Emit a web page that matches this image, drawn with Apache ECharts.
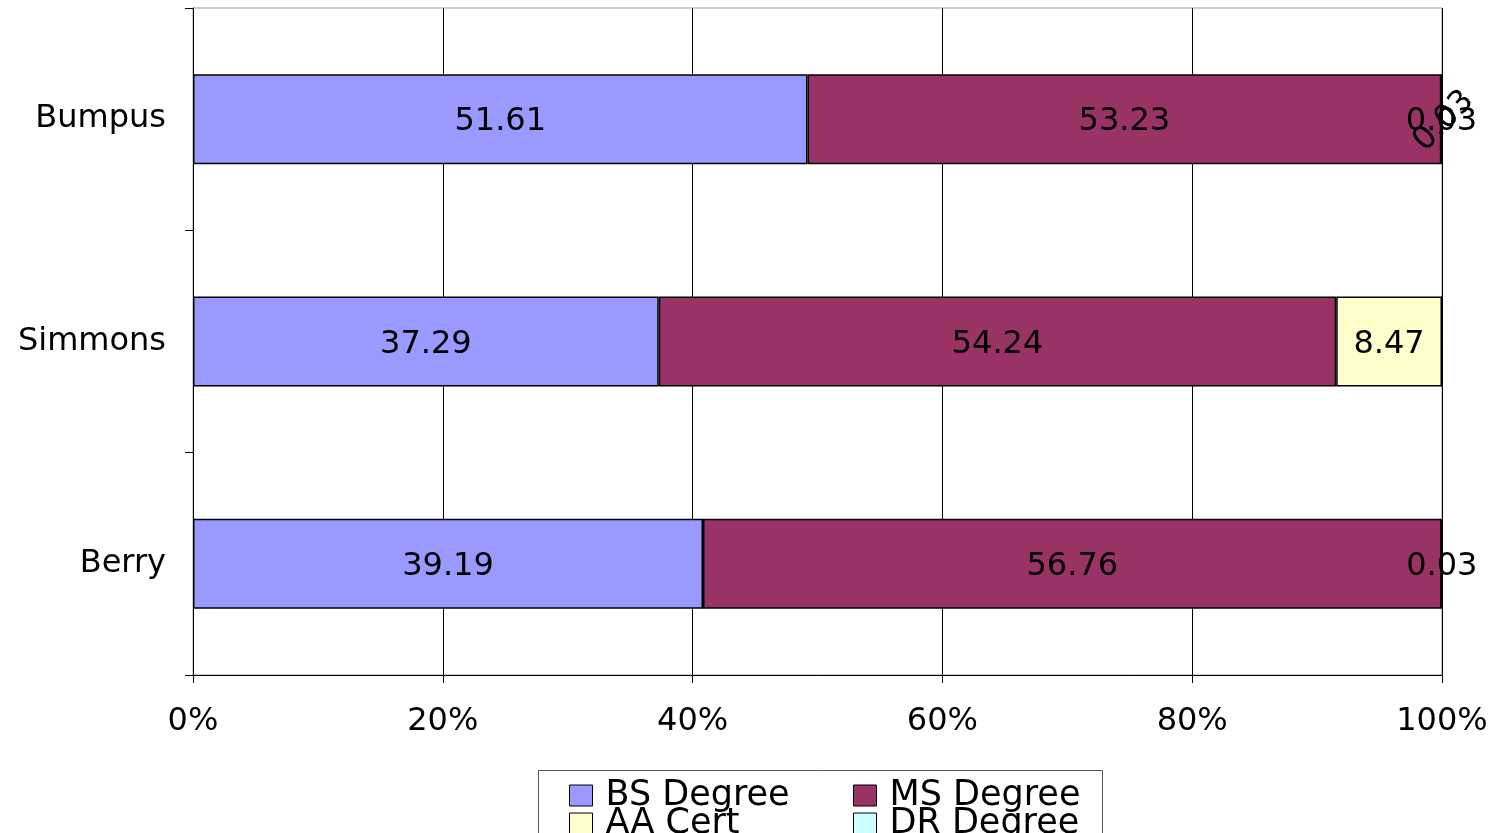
<!DOCTYPE html>
<html>
<head>
<meta charset="utf-8">
<script src="https://cdn.jsdelivr.net/npm/echarts@6/dist/echarts.min.js"></script>
<style>html,body{margin:0;padding:0;background:#fff}#c{width:1505px;height:833px}</style>
</head>
<body>
<div id="c"></div>
<script>
const categories = ['Berry', 'Simmons', 'Bumpus'];
const bsDegree = [39.19, 37.29, 51.61];
const msDegree = [56.76, 54.24, 53.23];
const aaCert = [0.03, 8.47, 0.03];
const drDegree = [0, 0, 0.03];
const xTicks = [0, 20, 40, 60, 80, 100];

const raw = {'BS Degree': bsDegree, 'MS Degree': msDegree, 'AA Cert': aaCert, 'DR Degree': drDegree};
const colors = {'BS Degree': '#9999FF', 'MS Degree': '#993366', 'AA Cert': '#FFFFCC', 'DR Degree': '#CCFFFF'};
const totals = categories.map((c, i) => bsDegree[i] + msDegree[i] + aaCert[i] + drDegree[i]);
const FONT = 'DejaVu Sans';
const FS = 32;

const series = Object.keys(raw).map(name => ({
  name: name,
  type: 'bar',
  stack: 'total',
  barWidth: 90,
  itemStyle: {color: colors[name], borderColor: '#000', borderWidth: 1.5},
  label: {
    show: true,
    position: 'inside',
    color: '#000',
    fontFamily: FONT,
    fontSize: FS,
    offset: [0, 3],
    formatter: p => raw[name][p.dataIndex] ? raw[name][p.dataIndex].toFixed(2) : ''
  },
  data: raw[name].map((v, i) => {
    const d = {value: v / totals[i] * 100};
    if (name === 'DR Degree' && i === 2) d.label = {rotate: 45};
    return d;
  })
}));

function legendItem(name, left, top) {
  return {
    data: [name], left: left, top: top, itemWidth: 23, itemHeight: 21, icon: 'rect',
    textStyle: {fontFamily: FONT, fontSize: 35, color: '#000', lineHeight: 28, padding: [0, 0, 0, 8]},
    itemStyle: {borderColor: '#000', borderWidth: 1}
  };
}

const chart = echarts.init(document.getElementById('c'));
chart.setOption({
  animation: false,
  color: Object.values(colors),
  grid: {left: 193, right: 63, top: 8, bottom: 158, show: true, borderColor: '#999', borderWidth: 1},
  xAxis: {
    type: 'value', min: xTicks[0], max: xTicks[xTicks.length - 1], interval: 20,
    axisLine: {show: true, lineStyle: {color: '#000', width: 1}},
    axisTick: {show: true, length: 8, lineStyle: {color: '#000'}},
    splitLine: {show: true, lineStyle: {color: '#000', width: 1}},
    axisLabel: {formatter: '{value}%', color: '#000', fontFamily: FONT, fontSize: FS, margin: 31}
  },
  yAxis: {
    type: 'category', data: categories,
    axisLine: {show: true, lineStyle: {color: '#000', width: 1}},
    axisTick: {show: true, length: 8, lineStyle: {color: '#000'}},
    axisLabel: {color: '#000', fontFamily: FONT, fontSize: FS, margin: 27, padding: [4, 0, 0, 0]}
  },
  legend: [
    legendItem('BS Degree', 564, 773),
    legendItem('AA Cert', 564, 801),
    legendItem('MS Degree', 848, 773),
    legendItem('DR Degree', 848, 801)
  ],
  graphic: [{type: 'rect', left: 536, top: 768, shape: {width: 564, height: 80}, style: {fill: 'none', stroke: '#555', lineWidth: 1}, z: -1}],
  series: series
});
</script>
</body>
</html>
